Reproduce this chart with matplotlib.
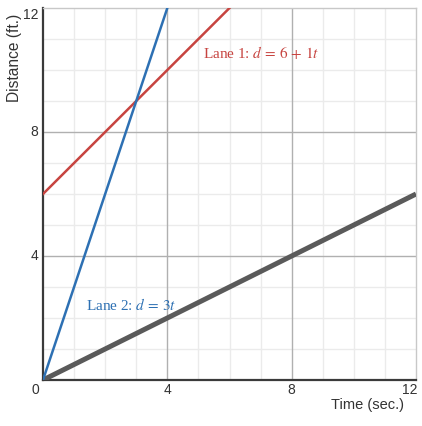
import matplotlib
matplotlib.use("Agg")
import matplotlib.pyplot as plt

# data
lane1_t = [0, 6]
lane1_d = [6, 12]
lane2_t = [0, 4]
lane2_d = [0, 12]
gray_t = [0, 12]
gray_d = [0, 6]
major_ticks = [4, 8, 12]
minor_ticks = [1, 2, 3, 5, 6, 7, 9, 10, 11]

plt.rcParams["font.family"] = ["Liberation Sans", "DejaVu Sans"]
plt.rcParams["mathtext.fontset"] = "stix"

fig = plt.figure(figsize=(4.22, 4.26), dpi=100)
ax = fig.add_axes([0.1019, 0.108, 0.8839, 0.8732])
ax.set_xlim(0, 12)
ax.set_ylim(0, 12)

# grid
for v in minor_ticks:
    ax.axvline(v, color="#ebebeb", lw=1, zorder=0)
    ax.axhline(v, color="#ebebeb", lw=1, zorder=0)
for v in [4, 8]:
    ax.axvline(v, color="#b0b0b0", lw=1, zorder=0.5)
    ax.axhline(v, color="#b0b0b0", lw=1, zorder=0.5)

ax.plot(gray_t, gray_d, color="#5a5a5a", lw=3.6, solid_capstyle="butt", zorder=3)
ax.plot(lane1_t, lane1_d, color="#c74440", lw=1.8, zorder=4)
ax.plot(lane2_t, lane2_d, color="#2d70b3", lw=1.8, zorder=4)

ax.text(5.15, 10.55, r"Lane 1: $d\,=\,6\,+\,1t$", color="#c74440",
        fontsize=11, family="Liberation Serif", va="center", ha="left")
ax.text(1.38, 2.42, r"Lane 2: $d\,=\,3t$", color="#2d70b3",
        fontsize=11, family="Liberation Serif", va="center", ha="left")

# spines
for s in ["top", "right"]:
    ax.spines[s].set_color("#c8c8c8")
    ax.spines[s].set_linewidth(1)
for s in ["left", "bottom"]:
    ax.spines[s].set_color("#3a3a3a")
    ax.spines[s].set_linewidth(1.6)
ax.set_xticks([])
ax.set_yticks([])

# tick labels
tc = "#333333"
xt = ax.get_xaxis_transform()
yt = ax.get_yaxis_transform()
ax.text(-0.25, -0.028, "0", transform=xt, ha="center", va="center", fontsize=10, color=tc)
for v in major_ticks:
    ha = "right" if v == 12 else "center"
    xpos = v + 0.05 if v == 12 else v
    ax.text(xpos, -0.028, str(v), transform=xt, ha=ha, va="center", fontsize=10, color=tc)
for v in major_ticks:
    ypos = v - 0.22 if v == 12 else v
    ax.text(-0.012, ypos, str(v), transform=yt, ha="right", va="center", fontsize=10, color=tc)

ax.text(0.968, -0.068, "Time (sec.)", transform=ax.transAxes, ha="right", va="center",
        fontsize=10.5, color=tc)
ax.text(-0.077, 0.985, "Distance (ft.)", transform=ax.transAxes, ha="center", va="top",
        rotation=90, fontsize=11.2, color=tc)

fig.savefig("out.png", dpi=100)
